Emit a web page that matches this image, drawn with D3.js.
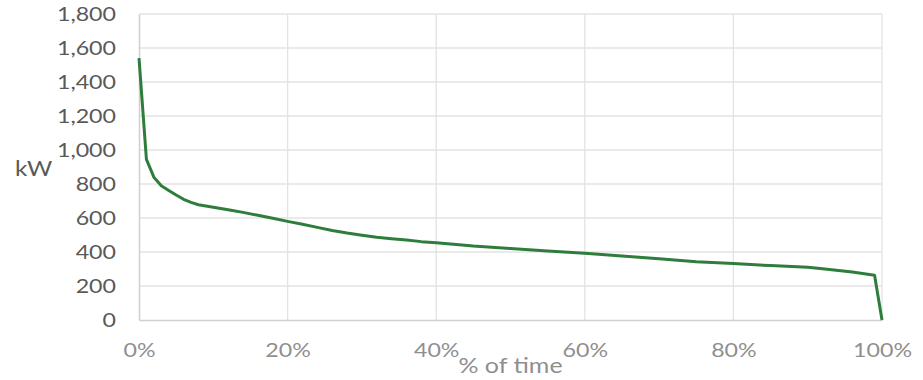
<!DOCTYPE html>
<html>
<head>
<meta charset="utf-8">
<script src="https://cdn.jsdelivr.net/npm/d3@7"></script>
<style>
  html, body { margin: 0; padding: 0; background: #fff; }
  svg { display: block; }
  svg text { font-family: Lato, "Open Sans", sans-serif; }
</style>
</head>
<body>
<svg id="chart" width="923" height="380"></svg>
<script>
// Load duration curve: share of time (fraction) vs. demand (kW)
const timeShare = [0, 0.01, 0.02, 0.03, 0.04, 0.05, 0.06, 0.07, 0.08, 0.10, 0.12, 0.14, 0.16, 0.18, 0.20,
  0.22, 0.24, 0.26, 0.28, 0.30, 0.32, 0.34, 0.36, 0.38, 0.40, 0.45, 0.50, 0.55, 0.60, 0.65,
  0.70, 0.75, 0.80, 0.85, 0.90, 0.92, 0.96, 0.99, 1.00];
const demandKW = [1540, 945, 840, 790, 762, 735, 710, 692, 678, 663, 649, 633, 616, 598, 580,
  563, 545, 527, 512, 499, 487, 478, 470, 461, 455, 435, 420, 406, 392, 376,
  360, 343, 332, 320, 310, 302, 282, 263, 0];

const yTicks = [0, 200, 400, 600, 800, 1000, 1200, 1400, 1600, 1800];
const xTicks = [0, 0.2, 0.4, 0.6, 0.8, 1.0];
const yTitle = "kW";
const xTitle = "% of time";

const svg = d3.select("#chart");
const W = 923, H = 380;
const m = { top: 14, right: 41, bottom: 60, left: 139 };
const stretch = 1.19; // labels are set a little wide
const FONT = "Lato, 'Open Sans', sans-serif";

const x = d3.scaleLinear().domain([0, 1]).range([m.left, W - m.right]);
const y = d3.scaleLinear().domain([0, 1800]).range([H - m.bottom, m.top]);

// horizontal gridlines
svg.append("g")
  .selectAll("line")
  .data(yTicks.filter(d => d > 0))
  .join("line")
  .attr("x1", x(0)).attr("x2", x(1))
  .attr("y1", d => y(d)).attr("y2", d => y(d))
  .attr("stroke", "#e3e3e3").attr("stroke-width", 1.3);

// vertical gridlines
svg.append("g")
  .selectAll("line")
  .data(xTicks.filter(d => d > 0))
  .join("line")
  .attr("x1", d => x(d)).attr("x2", d => x(d))
  .attr("y1", y(0)).attr("y2", y(1800))
  .attr("stroke", "#e3e3e3").attr("stroke-width", 1.3);

// y axis
const yAxis = svg.append("g")
  .attr("transform", `translate(${m.left},0)`)
  .call(d3.axisLeft(y).tickValues(yTicks).tickFormat(d3.format(",")).tickSize(0).tickPadding(23));
yAxis.attr("font-family", FONT);
yAxis.select(".domain").attr("stroke", "#d0d0d0").attr("stroke-width", 1.5);
yAxis.selectAll("text")
  .attr("fill", "#595959").attr("font-size", 19.5)
  .attr("x", 0)
  .attr("transform", `translate(-23,0) scale(${stretch},1)`);

// x axis
const xAxis = svg.append("g")
  .attr("transform", `translate(0,${y(0)})`)
  .call(d3.axisBottom(x).tickValues(xTicks).tickFormat(d3.format(".0%")).tickSize(0).tickPadding(23));
xAxis.attr("font-family", FONT);
xAxis.select(".domain").attr("stroke", "#d0d0d0").attr("stroke-width", 1.5);
xAxis.selectAll("text")
  .attr("fill", "#8f8f8f").attr("font-size", 19.5)
  .attr("transform", `scale(${stretch},1)`)
  .attr("y", 23);

// demand curve
const line = d3.line().x((d, i) => x(timeShare[i])).y(d => y(d));
svg.append("path")
  .datum(demandKW)
  .attr("d", line)
  .attr("fill", "none")
  .attr("stroke", "#2e7d3c")
  .attr("stroke-width", 3)
  .attr("stroke-linejoin", "round");

// axis titles
svg.append("text")
  .attr("transform", `translate(15,176) scale(${stretch},1)`)
  .attr("font-family", FONT)
  .attr("fill", "#595959").attr("font-size", 20.5)
  .text(yTitle);

svg.append("text")
  .attr("transform", `translate(${(x(0) + x(1)) / 2},373) scale(${stretch},1)`)
  .attr("font-family", FONT)
  .attr("text-anchor", "middle")
  .attr("fill", "#8f8f8f").attr("font-size", 21)
  .text(xTitle);
</script>
</body>
</html>
